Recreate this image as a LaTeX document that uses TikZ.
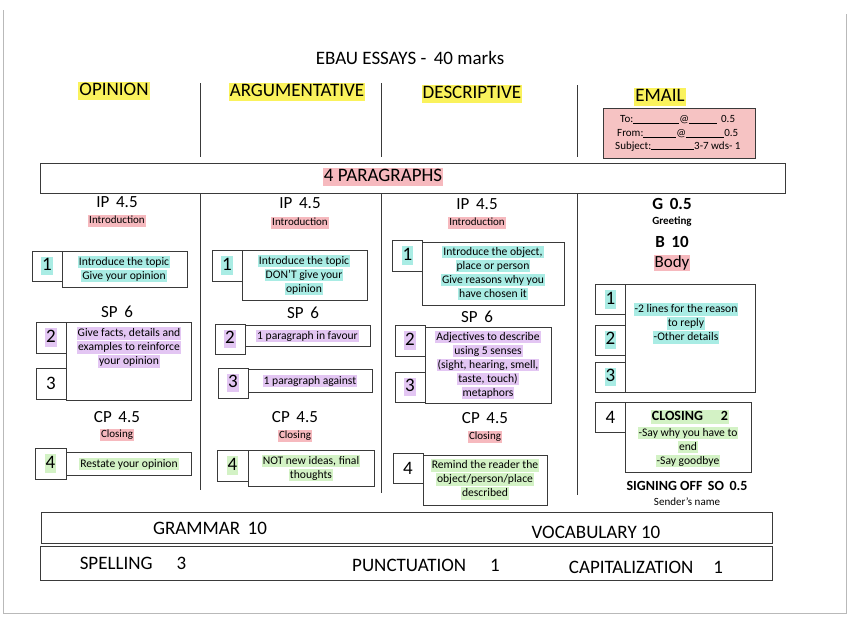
\documentclass[tikz,border=0pt]{standalone}
\usepackage{fontspec}
\setmainfont{Carlito}
\usepackage{tikz}

\definecolor{hlyellow}{HTML}{FAF25C}
\definecolor{hlpink}{HTML}{F6B9BE}
\definecolor{hlcyan}{HTML}{A9ECE4}
\definecolor{hlpurple}{HTML}{E3C6F3}
\definecolor{hlgreen}{HTML}{D3F2C5}
\definecolor{mailpink}{HTML}{F6C3C3}
\definecolor{inkgray}{HTML}{3A3A3A}

% highlighter stroke behind a word
\newcommand{\hl}[2]{{\setlength{\fboxsep}{1pt}\colorbox{#1}{\vphantom{lg}#2}}}

\begin{document}
\begin{tikzpicture}[x=1pt,y=-1pt,
    numbox/.style={draw=inkgray,line width=0.6pt,minimum width=30pt,minimum height=30pt,inner sep=0pt,font=\fontsize{19}{22}\selectfont},
    txtbox/.style={draw=inkgray,line width=0.6pt,inner sep=0pt},
    boxtext/.style={align=center,inner sep=0pt,font=\fontsize{11.6}{14}\selectfont},
    head/.style={inner sep=0pt,font=\fontsize{19}{22}\selectfont},
    score/.style={inner sep=0pt,font=\fontsize{17}{20}\selectfont},
    part/.style={inner sep=0pt,font=\fontsize{11}{13}\selectfont},
    divider/.style={inkgray,line width=0.6pt}]
  \useasboundingbox (0,0) rectangle (848,616);
  % edge of the scanned sheet
  \draw[gray!55,line width=0.6pt] (3,10) -- (3,613) -- (846,613) -- (846,14);

  % title and essay types
  \node[head] (title) at (410,58) {EBAU ESSAYS -\, 40 marks};
  \node[head] (opinion) at (114,91) {\hl{hlyellow}{OPINION}};
  \node[head] (argum) at (297,92) {\hl{hlyellow}{ARGUMENTATIVE}};
  \node[head] (descr) at (472,94) {\hl{hlyellow}{DESCRIPTIVE}};
  \node[head] (email) at (660,97) {\hl{hlyellow}{EMAIL}};

  % column dividers
  \draw[divider] (200,83) -- (200,157);
  \draw[divider] (381,83) -- (381,157);
  \draw[divider] (577,85) -- (577,157);
  \draw[divider] (200,193) -- (200,490);
  \draw[divider] (381,193) -- (381,493);
  \draw[divider] (577,193) -- (577,495);

  % email header box
  \node[txtbox,fill=mailpink,minimum width=152pt,minimum height=50pt] (mailbox) at (679,133) {};
  \node[part,anchor=west] (mailto) at (620,120) {To:\rule{46pt}{.4pt}@\rule{28pt}{.4pt}\hspace{4pt}0.5};
  \node[part,anchor=west] (mailfrom) at (617,134) {From:\rule{33pt}{.4pt}@\rule{38pt}{.4pt}0.5};
  \node[part,anchor=west] (mailsubj) at (615,147) {Subject:\rule{43pt}{.4pt}3-7 wds- 1};

  % 4 paragraphs
  \node[txtbox,minimum width=745pt,minimum height=30pt] (parbox) at (412.5,178) {};
  \node[head] (partitle) at (383,177) {\hl{hlpink}{4 PARAGRAPHS}};

  % ---- opinion
  \node[score] (oip) at (117,202) {IP\, 4.5};
  \node[part] (ointro) at (117,221) {\hl{hlpink}{Introduction}};
  \node[numbox] (o1) at (47,266) {\hl{hlcyan}{1}};
  \node[txtbox,minimum width=125pt,minimum height=36pt] (o1t) at (124.5,269) {};
  \node[boxtext] at (124,269) {\hl{hlcyan}{Introduce the topic}\\\hl{hlcyan}{Give your opinion}};
  \node[score] (osp) at (117,312) {SP\, 6};
  \node[numbox,minimum height=31pt] (o2) at (51,337.5) {\hl{hlpurple}{2}};
  \node[numbox,minimum height=31pt] (o3) at (51,383.5) {3};
  \node[txtbox,minimum width=125pt,minimum height=78pt] (o23t) at (128.5,361) {};
  \node[boxtext] at (129,347.5) {\hl{hlpurple}{Give facts, details and}\\\hl{hlpurple}{examples to reinforce}\\\hl{hlpurple}{your opinion}};
  \node[score] (ocp) at (117,417) {CP\, 4.5};
  \node[part] (oclose) at (117,435) {\hl{hlpink}{Closing}};
  \node[numbox,minimum width=31pt,minimum height=31pt] (o4) at (50.5,463.5) {\hl{hlgreen}{4}};
  \node[txtbox,minimum width=125pt,minimum height=23pt] (o4t) at (128.5,463.5) {};
  \node[boxtext] at (129,464) {\hl{hlgreen}{Restate your opinion}};

  % ---- argumentative
  \node[score] (aip) at (300,203) {IP\, 4.5};
  \node[part] (aintro) at (300,223) {\hl{hlpink}{Introduction}};
  \node[numbox,minimum height=31pt] (a1) at (227,265.5) {\hl{hlcyan}{1}};
  \node[txtbox,minimum width=125pt,minimum height=50pt] (a1t) at (304.5,275) {};
  \node[boxtext] at (304,275) {\hl{hlcyan}{Introduce the topic}\\\hl{hlcyan}{DON'T give your}\\\hl{hlcyan}{opinion}};
  \node[score] (asp) at (303,313) {SP\, 6};
  \node[numbox] (a2) at (230,339) {\hl{hlpurple}{2}};
  \node[txtbox,minimum width=125pt,minimum height=21pt] (a2t) at (307.5,335.5) {};
  \node[boxtext] at (307.5,336) {\hl{hlpurple}{1 paragraph in favour}};
  \node[numbox] (a3) at (233,383) {\hl{hlpurple}{3}};
  \node[txtbox,minimum width=124pt,minimum height=23pt] (a3t) at (310,380.5) {};
  \node[boxtext] at (310,381) {\hl{hlpurple}{1 paragraph against}};
  \node[score] (acp) at (295,417) {CP\, 4.5};
  \node[part] (aclose) at (295,436) {\hl{hlpink}{Closing}};
  \node[numbox,minimum width=31pt,minimum height=31pt] (a4) at (232.5,465.5) {\hl{hlgreen}{4}};
  \node[txtbox,minimum width=126pt,minimum height=36pt] (a4t) at (311,468) {};
  \node[boxtext] at (311,468) {\hl{hlgreen}{NOT new ideas, final}\\\hl{hlgreen}{thoughts}};

  % ---- descriptive
  \node[score] (dip) at (477,204) {IP\, 4.5};
  \node[part] (dintro) at (477,223) {\hl{hlpink}{Introduction}};
  \node[numbox,minimum height=31pt] (d1) at (407.5,255.5) {\hl{hlcyan}{1}};
  \node[txtbox,minimum width=142pt,minimum height=63pt] (d1t) at (493,273.5) {};
  \node[boxtext] at (493,273) {\hl{hlcyan}{Introduce the object,}\\\hl{hlcyan}{place or person}\\\hl{hlcyan}{Give reasons why you}\\\hl{hlcyan}{have chosen it}};
  \node[score] (dsp) at (477,317) {SP\, 6};
  \node[numbox,minimum height=31pt] (d2) at (410,340.5) {\hl{hlpurple}{2}};
  \node[numbox] (d3) at (410,387) {\hl{hlpurple}{3}};
  \node[txtbox,minimum width=126pt,minimum height=76pt] (d23t) at (488,365) {};
  \node[boxtext] at (488,365) {\hl{hlpurple}{Adjectives to describe}\\\hl{hlpurple}{using 5 senses}\\\hl{hlpurple}{(sight, hearing, smell,}\\\hl{hlpurple}{taste, touch)}\\\hl{hlpurple}{metaphors}};
  \node[score] (dcp) at (485,418) {CP\, 4.5};
  \node[part] (dclose) at (485,437) {\hl{hlpink}{Closing}};
  \node[numbox] (d4) at (408,468) {4};
  \node[txtbox,minimum width=124pt,minimum height=50pt] (d4t) at (485,480) {};
  \node[boxtext] at (485,479.5) {\hl{hlgreen}{Remind the reader the}\\\hl{hlgreen}{object/person/place}\\\hl{hlgreen}{described}};

  % ---- email
  \node[score,font=\fontsize{17}{20}\selectfont\bfseries] (eg) at (672,204) {G\, 0.5};
  \node[part,font=\fontsize{11}{13}\selectfont\bfseries] (egreet) at (672,222) {Greeting};
  \node[score,font=\fontsize{17}{20}\selectfont\bfseries] (eb) at (672,242) {B\, 10};
  \node[score] (ebody) at (672,263) {\hl{hlpink}{Body}};
  \node[numbox] (e1) at (610.5,299.5) {\hl{hlcyan}{1}};
  \node[numbox] (e2) at (610.5,340) {\hl{hlcyan}{2}};
  \node[numbox] (e3) at (610.5,377) {\hl{hlcyan}{3}};
  \node[txtbox,minimum width=130pt,minimum height=108pt] (e123t) at (690,338) {};
  \node[boxtext] at (686,323.5) {\hl{hlcyan}{-2 lines for the reason}\\\hl{hlcyan}{to reply}\\\hl{hlcyan}{-Other details}};
  \node[numbox] (e4) at (610.5,417) {4};
  \node[txtbox,minimum width=126pt,minimum height=70pt] (e4t) at (688,437) {};
  \node[boxtext,font=\fontsize{14}{16}\selectfont\bfseries] (eclosing) at (690,417) {\hl{hlgreen}{CLOSING\hspace{18pt}2}};
  \node[boxtext] at (688,447) {\hl{hlgreen}{-Say why you have to}\\\hl{hlgreen}{end}\\\hl{hlgreen}{-Say goodbye}};
  \node[part,font=\fontsize{14}{17}\selectfont\bfseries] (esign) at (687,486) {SIGNING OFF\, SO\, 0.5};
  \node[part] (esender) at (687,502) {Sender's name};

  % language marks
  \node[txtbox,minimum width=731pt,minimum height=31pt] (gvbox) at (406.5,527.5) {};
  \node[head] (grammar) at (210,528) {GRAMMAR\, 10};
  \node[head] (vocab) at (596,532) {VOCABULARY 10};
  \node[txtbox,minimum width=732pt,minimum height=34pt] (spbox) at (406,563) {};
  \node[head] (spelling) at (133,563) {SPELLING\hspace{24pt}3};
  \node[head] (punct) at (426,565) {PUNCTUATION\hspace{24pt}1};
  \node[head] (capital) at (646,567) {CAPITALIZATION\hspace{20pt}1};
\end{tikzpicture}
\end{document}
